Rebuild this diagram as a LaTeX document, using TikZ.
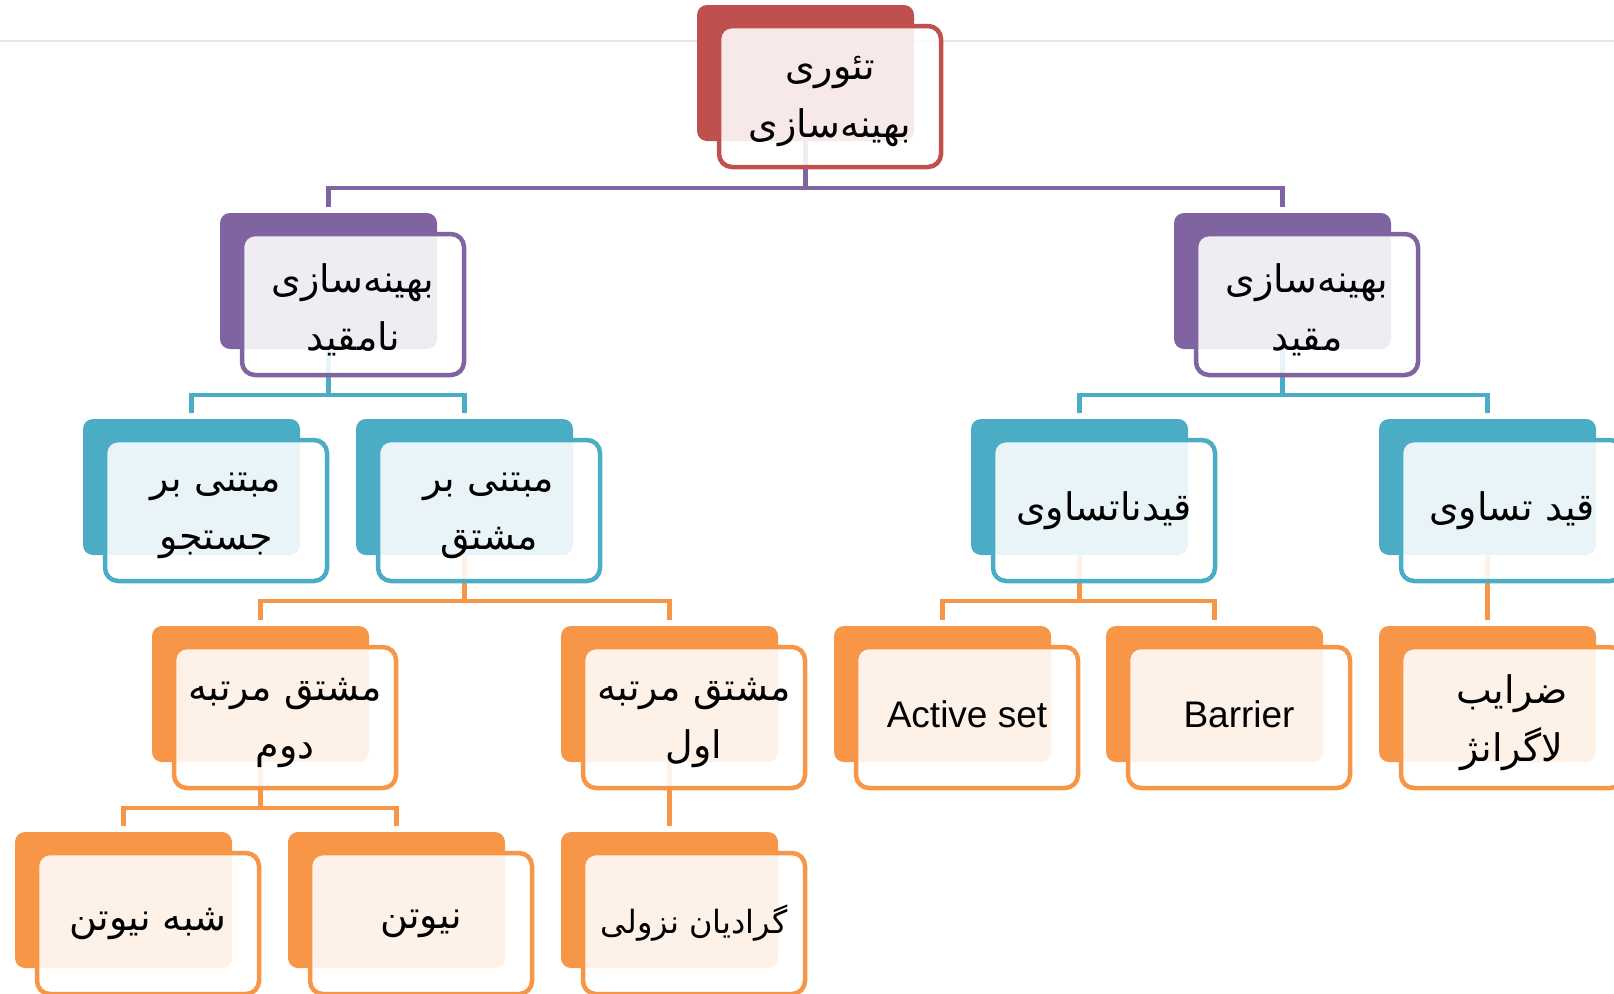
\documentclass[tikz,border=0pt]{standalone}
\usepackage{fontspec}
\setmainfont{Liberation Sans}
\newfontfamily\fa[Script=Arabic]{DejaVu Sans}
\TeXXeTstate=1
\definecolor{cR}{HTML}{C0504D}
\definecolor{cP}{HTML}{8064A2}
\definecolor{cB}{HTML}{4BACC6}
\definecolor{cO}{HTML}{F79646}
\definecolor{pageline}{HTML}{E6E6E6}
\newcommand\rl[1]{\beginR #1\endR}
\newcommand\lt[1]{{\normalfont\fontsize{37bp}{42bp}\selectfont #1}}
\newcommand\bkbox[4]{\node[bk,fill=#4] (#1-b) at (#2,#3) {};}
\newcommand\frbox[4]{%
  \node[fr,draw=#2] (#1) at ([xshift=22bp,yshift=-21bp]#1-b.north west) {};
  \node[tx] (#1-t) at ([yshift=#3]#1.center) {#4};}
\tikzset{
  bk/.style={rectangle, rounded corners=10bp, minimum width=217bp, minimum height=136bp,
    inner sep=0pt, outer sep=0pt, anchor=north west},
  fr/.style={rectangle, rounded corners=13bp, minimum width=222bp, minimum height=141bp,
    inner sep=0pt, outer sep=0pt, line width=4.5bp, fill=white, fill opacity=0.88,
    draw opacity=1, anchor=north west},
  tx/.style={inner sep=0pt, align=center, text=black,
    font=\fa\fontsize{38bp}{58bp}\selectfont},
  cn/.style={line width=4.5bp},
}
\begin{document}
\begin{tikzpicture}[x=1bp,y=-1bp]
\useasboundingbox (0,0) rectangle (1614,993);
\clip (0,0) rectangle (1614,993);
\draw[pageline, line width=2bp] (0,40.5) -- (1614,40.5);
% back boxes
\bkbox{T}{697}{5}{cR}
\bkbox{U}{220}{213}{cP}
\bkbox{C}{1174}{213}{cP}
\bkbox{S}{83}{419}{cB}
\bkbox{D}{356}{419}{cB}
\bkbox{I}{971}{419}{cB}
\bkbox{E}{1379}{419}{cB}
\bkbox{SO}{152}{626}{cO}
\bkbox{FO}{561}{626}{cO}
\bkbox{AS}{834}{626}{cO}
\bkbox{B}{1106}{626}{cO}
\bkbox{L}{1379}{626}{cO}
\bkbox{QN}{15}{832}{cO}
\bkbox{N}{288}{832}{cO}
\bkbox{GD}{561}{832}{cO}
% connectors
\draw[cn, cP] (T-b.south) -- ++(0,47) coordinate (tbus) -| ([yshift=6bp]U-b.north);
\draw[cn, cP] (tbus) -| ([yshift=6bp]C-b.north);
\draw[cn, cB] (U-b.south) -- ++(0,46) coordinate (ubus) -| ([yshift=6bp]S-b.north);
\draw[cn, cB] (ubus) -| ([yshift=6bp]D-b.north);
\draw[cn, cB] (C-b.south) -- ++(0,46) coordinate (cbus) -| ([yshift=6bp]I-b.north);
\draw[cn, cB] (cbus) -| ([yshift=6bp]E-b.north);
\draw[cn, cO] (D-b.south) -- ++(0,46) coordinate (dbus) -| ([yshift=6bp]SO-b.north);
\draw[cn, cO] (dbus) -| ([yshift=6bp]FO-b.north);
\draw[cn, cO] (I-b.south) -- ++(0,46) coordinate (ibus) -| ([yshift=6bp]AS-b.north);
\draw[cn, cO] (ibus) -| ([yshift=6bp]B-b.north);
\draw[cn, cO] (E-b.south) -- ([yshift=6bp]L-b.north);
\draw[cn, cO] (SO-b.south) -- ++(0,46) coordinate (sobus) -| ([yshift=6bp]QN-b.north);
\draw[cn, cO] (sobus) -| ([yshift=6bp]N-b.north);
\draw[cn, cO] (FO-b.south) -- ([yshift=6bp]GD-b.north);
% front boxes and texts
\frbox{T}{cR}{-5bp}{\rl{تئوری}\\\rl{بهینه‌سازی}}
\frbox{U}{cP}{-5bp}{\rl{بهینه‌سازی}\\\rl{نامقید}}
\frbox{C}{cP}{-5bp}{\rl{بهینه‌سازی}\\\rl{مقید}}
\frbox{S}{cB}{-5bp}{\rl{مبتنی بر}\\\rl{جستجو}}
\frbox{D}{cB}{-5bp}{\rl{مبتنی بر}\\\rl{مشتق}}
\frbox{I}{cB}{0bp}{\rl{قیدناتساوی}}
\frbox{E}{cB}{0bp}{\rl{قید تساوی}}
\frbox{SO}{cO}{-5bp}{\rl{مشتق مرتبه}\\\rl{دوم}}
\frbox{FO}{cO}{-5bp}{\rl{مشتق مرتبه}\\\rl{اول}}
\frbox{AS}{cO}{3bp}{\lt{Active set}}
\frbox{B}{cO}{3bp}{\lt{Barrier}}
\frbox{L}{cO}{-5bp}{\rl{ضرایب}\\\rl{لاگرانژ}}
\frbox{QN}{cO}{0bp}{\rl{شبه نیوتن}}
\frbox{N}{cO}{0bp}{\rl{نیوتن}}
\frbox{GD}{cO}{0bp}{{\fontsize{32bp}{40bp}\selectfont\rl{گرادیان نزولی}}}
\end{tikzpicture}
\end{document}
